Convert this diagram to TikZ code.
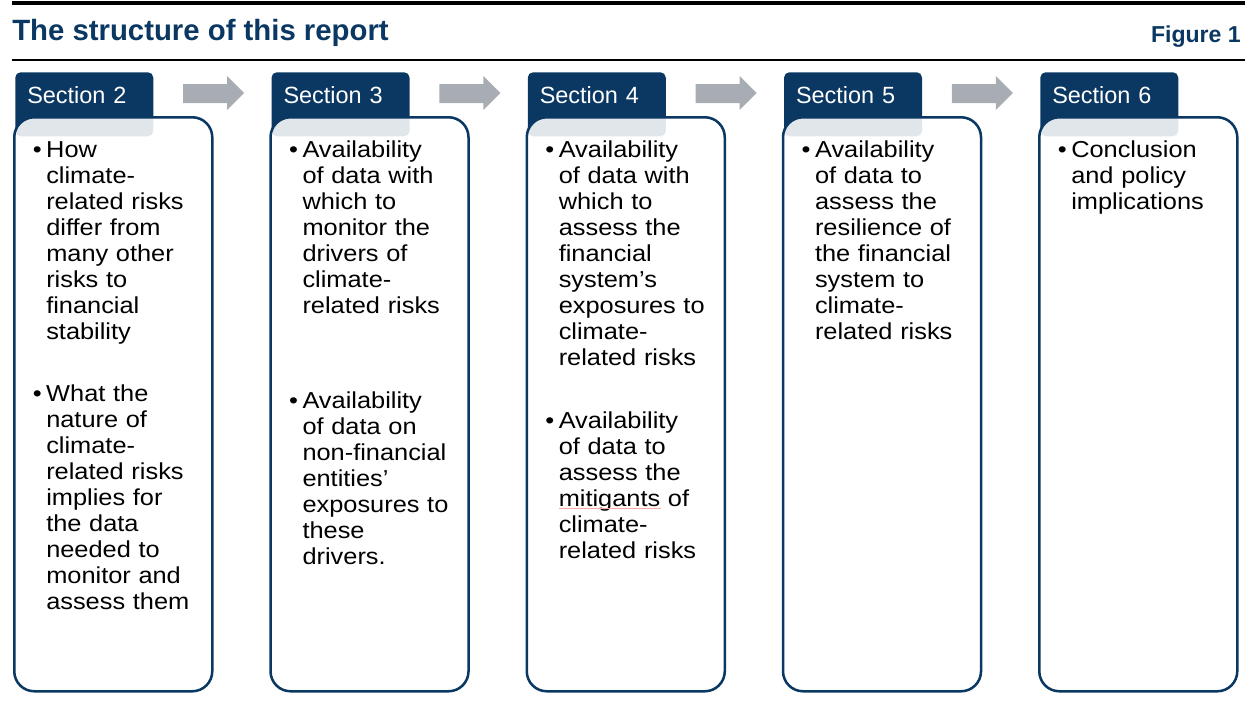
\documentclass[tikz,border=0pt]{standalone}
\usepackage{fontspec}
\setmainfont{Liberation Sans}
\newfontfamily\bodyfont[FakeStretch=1.1]{Liberation Sans}
\usetikzlibrary{calc}
\definecolor{navy}{RGB}{10,56,98}
\definecolor{arrowgray}{RGB}{168,172,179}

\begin{document}
\begin{tikzpicture}[x=0.75pt,y=0.75pt,
    sec box/.style={draw=navy,line width=1.9pt,fill=white,fill opacity=0.88,
        rounded corners=15pt,minimum width=148.5pt,minimum height=430.5pt,
        anchor=north west,inner sep=0pt},
    tab/.style={fill=navy,rounded corners=4pt,anchor=north west,
        inner xsep=9pt,inner ysep=0pt,text width=85.5pt,
        text height=23.25pt,text depth=24.75pt,align=left,text=white,
        font=\fontsize{17.6pt}{20pt}\selectfont},
    item/.style={anchor=base west,inner sep=0pt,text width=125pt,align=left,
        font=\bodyfont\fontsize{17.3pt}{19.5pt}\selectfont},
    step arrow/.style={fill=arrowgray}]

    \useasboundingbox (0,0) rectangle (1245,-700);

    % heading
    \draw[line width=2.6pt] (12,-3) -- (1245,-3);
    \node[anchor=base west,inner sep=0pt,text=navy,
        font=\bfseries\fontsize{22pt}{24pt}\selectfont] (title) at (12,-40)
        {The structure of this report};
    \node[anchor=base east,inner sep=0pt,text=navy,
        font=\bfseries\fontsize{17.3pt}{20pt}\selectfont] (fig) at (1241,-42)
        {Figure 1};
    \draw[line width=1.7pt] (12,-60) -- (1245,-60);

    % corners of the five boxes
    \coordinate (c2) at (13,-116);
    \coordinate (c3) at (269.25,-116);
    \coordinate (c4) at (525.5,-116);
    \coordinate (c5) at (781.75,-116);
    \coordinate (c6) at (1038,-116);

    % tabs
    \node[tab] (t2) at ($(c2)+(2,44)$) {Section 2};
    \node[tab] (t3) at ($(c3)+(2,44)$) {Section 3};
    \node[tab] (t4) at ($(c4)+(2,44)$) {Section 4};
    \node[tab] (t5) at ($(c5)+(2,44)$) {Section 5};
    \node[tab] (t6) at ($(c6)+(2,44)$) {Section 6};

    % boxes
    \node[sec box] (b2) at (c2) {};
    \node[sec box] (b3) at (c3) {};
    \node[sec box] (b4) at (c4) {};
    \node[sec box] (b5) at (c5) {};
    \node[sec box] (b6) at (c6) {};

    % grey arrows
    \fill[step arrow,shift={(c2)}] (170,32) -- (214,32) -- (214,40) -- (231,23) -- (214,6) -- (214,13) -- (170,13) -- cycle;
    \fill[step arrow,shift={(c3)}] (170,32) -- (214,32) -- (214,40) -- (231,23) -- (214,6) -- (214,13) -- (170,13) -- cycle;
    \fill[step arrow,shift={(c4)}] (170,32) -- (214,32) -- (214,40) -- (231,23) -- (214,6) -- (214,13) -- (170,13) -- cycle;
    \fill[step arrow,shift={(c5)}] (170,32) -- (214,32) -- (214,40) -- (231,23) -- (214,6) -- (214,13) -- (170,13) -- cycle;

    % bullet points
    \node[item] (i2a) at ($(c2)+(33,-41)$) {\llap{\textbullet\hspace{3.4pt}}How\\climate-\\related risks\\differ from\\many other\\risks to\\financial\\stability};
    \node[item] (i2b) at ($(c2)+(33,-285)$) {\llap{\textbullet\hspace{3.4pt}}What the\\nature of\\climate-\\related risks\\implies for\\the data\\needed to\\monitor and\\assess them};

    \node[item] (i3a) at ($(c3)+(33,-41)$) {\llap{\textbullet\hspace{3.4pt}}Availability\\of data with\\which to\\monitor the\\drivers of\\climate-\\related risks};
    \node[item] (i3b) at ($(c3)+(33,-292)$) {\llap{\textbullet\hspace{3.4pt}}Availability\\of data on\\non-financial\\entities’\\exposures to\\these\\drivers.};

    \node[item] (i4a) at ($(c4)+(33,-41)$) {\llap{\textbullet\hspace{3.4pt}}Availability\\of data with\\which to\\assess the\\financial\\system’s\\exposures to\\climate-\\related risks};
    \node[item] (i4b) at ($(c4)+(33,-312)$) {\llap{\textbullet\hspace{3.4pt}}Availability\\of data to\\assess the\\mitigants of\\climate-\\related risks};
    \draw[red!35,line width=0.6pt] (559,-508) -- (661,-508);

    \node[item] (i5a) at ($(c5)+(33,-41)$) {\llap{\textbullet\hspace{3.4pt}}Availability\\of data to\\assess the\\resilience of\\the financial\\system to\\climate-\\related risks};

    \node[item] (i6a) at ($(c6)+(33,-41)$) {\llap{\textbullet\hspace{3.4pt}}Conclusion\\and policy\\implications};
\end{tikzpicture}
\end{document}
